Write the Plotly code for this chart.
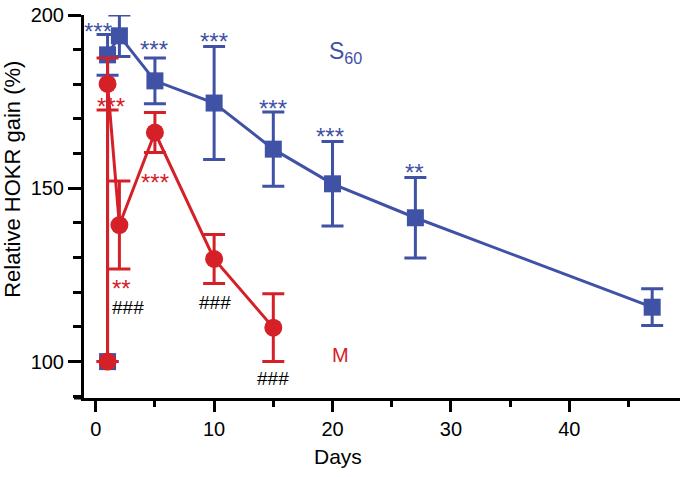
import plotly.graph_objects as go

# ---- data ----
s60_days = [1, 1, 2, 5, 10, 15, 20, 27, 47]
s60_gain = [100, 188.5, 194.0, 181.0, 174.6, 161.3, 151.3, 141.5, 115.7]
s60_err = [None, 5.9, 6.0, 6.6, 16.3, 10.7, 12.2, 11.6, 5.3]

m_days = [1, 1, 2, 5, 10, 15]
m_gain = [100, 180.1, 139.4, 166.1, 129.6, 109.8]
m_err = [None, 7.5, 12.7, 5.75, 7.1, 9.75]

# significance marks: (day, value, text)
s60_marks_x = [0.2, 2.1, 4.9, 10, 15, 19.8, 26.9]
s60_marks_y = [196.3, 202.6, 191.3, 193.5, 174.3, 166.1, 155.6]
s60_marks_t = ["***", "***", "***", "***", "***", "***", "**"]

m_marks_x = [1.3, 5.0, 2.2]
m_marks_y = [174.5, 152.4, 122.1]
m_marks_t = ["***", "***", "**"]

hash_x = [2.7, 10.1, 15.0]
hash_y = [115.5, 117.0, 95.0]
hash_t = ["###", "###", "###"]

x_ticks = [0, 10, 20, 30, 40]
y_ticks = [100, 150, 200]

BLUE = "rgb(63,82,165)"
RED = "rgb(214,32,40)"
FONT = "Liberation Sans, Arial, sans-serif"

fig = go.Figure()

fig.add_trace(go.Scatter(
    x=s60_days, y=s60_gain, mode="lines+markers",
    line=dict(color=BLUE, width=3),
    marker=dict(symbol="square", size=17, color=BLUE),
    error_y=dict(type="data", array=s60_err, visible=True, color=BLUE,
                 thickness=3, width=11),
    cliponaxis=False, showlegend=False,
))
fig.add_trace(go.Scatter(
    x=m_days, y=m_gain, mode="lines+markers",
    line=dict(color=RED, width=3),
    marker=dict(symbol="circle", size=18, color=RED),
    error_y=dict(type="data", array=m_err, visible=True, color=RED,
                 thickness=3, width=11),
    cliponaxis=False, showlegend=False,
))

annotations = []
for x, y, t in zip(s60_marks_x, s60_marks_y, s60_marks_t):
    annotations.append(dict(x=x, y=y, text=t, showarrow=False, yshift=-4,
                            xanchor="center", yanchor="middle",
                            font=dict(family=FONT, size=24, color=BLUE)))
for x, y, t in zip(m_marks_x, m_marks_y, m_marks_t):
    annotations.append(dict(x=x, y=y, text=t, showarrow=False, yshift=-3,
                            xanchor="center", yanchor="middle",
                            font=dict(family=FONT, size=24, color=RED)))
for x, y, t in zip(hash_x, hash_y, hash_t):
    annotations.append(dict(x=x, y=y, text=t, showarrow=False,
                            xanchor="center", yanchor="middle",
                            font=dict(family=FONT, size=19, color="black")))

annotations.append(dict(x=21.1, y=189.3, text="S<sub>60</sub>", showarrow=False,
                        xanchor="center", yanchor="middle",
                        font=dict(family=FONT, size=23, color=BLUE)))
annotations.append(dict(x=20.7, y=101.9, text="M", showarrow=False,
                        xanchor="center", yanchor="middle",
                        font=dict(family=FONT, size=20, color=RED)))

annotations.append(dict(xref="paper", yref="paper", x=(338 - 84) / 596,
                        y=(398.5 - 457) / 383.5, text="Days", showarrow=False,
                        xanchor="center", yanchor="middle",
                        font=dict(family=FONT, size=21, color="black")))
annotations.append(dict(xref="paper", yref="paper", x=(13 - 84) / 596,
                        y=(398.5 - 180) / 383.5, text="Relative HOKR gain (%)",
                        textangle=-90, showarrow=False,
                        xanchor="center", yanchor="middle",
                        font=dict(family=FONT, size=22, color="black")))

fig.update_layout(
    width=680, height=477,
    margin=dict(l=84, r=0, t=15, b=78.5, autoexpand=False),
    paper_bgcolor="white", plot_bgcolor="white",
    font=dict(family=FONT, size=20, color="black"),
    annotations=annotations,
    shapes=[dict(type="line", xref="paper", yref="paper",
                 x0=-10 / 596, x1=0, y0=0, y1=0,
                 line=dict(color="black", width=3))],
    xaxis=dict(range=[-0.99, 49.35], tickvals=x_ticks,
               ticktext=[str(v) for v in x_ticks], automargin=False,
               showgrid=False, zeroline=False, showline=True,
               linecolor="black", linewidth=3,
               ticks="outside", ticklen=11, tickwidth=3, tickcolor="black",
               tickfont=dict(family=FONT, size=20),
               minor=dict(dtick=5, tick0=0, ticks="outside", ticklen=6,
                          tickwidth=3, tickcolor="black")),
    yaxis=dict(range=[89.5, 200], tickvals=y_ticks,
               ticktext=[str(v) for v in y_ticks], automargin=False,
               showgrid=False, zeroline=False, showline=True,
               linecolor="black", linewidth=3,
               ticks="outside", ticklen=13, tickwidth=3, tickcolor="black",
               tickfont=dict(family=FONT, size=20),
               minor=dict(dtick=10, tick0=100, ticks="outside", ticklen=8,
                          tickwidth=3, tickcolor="black")),
)

fig.write_html("out.html",
               config={"displayModeBar": False},
               post_script="document.body.style.margin='0';"
                           "document.body.style.overflow='hidden';")
